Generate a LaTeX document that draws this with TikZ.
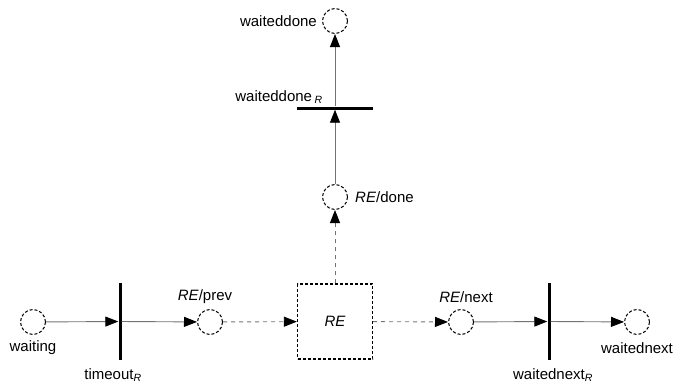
\documentclass[tikz,border=0pt]{standalone}
\usepackage{fontspec}
\setmainfont{Liberation Sans}
\usetikzlibrary{arrows.meta}
\begin{document}
\begin{tikzpicture}[x=1pt,y=-1pt,
 place/.style={circle,draw,dash pattern=on 3pt off 2pt,minimum size=25pt,inner sep=0pt,line width=1pt},
 trans/.style={fill=black,inner sep=0pt,minimum width=3pt,minimum height=77pt},
 htrans/.style={fill=black,inner sep=0pt,minimum width=76pt,minimum height=3pt},
 arc/.style={draw=black!55,line width=0.9pt,-{Triangle[length=13pt,width=10pt,black]}},
 darc/.style={arc,dash pattern=on 4pt off 4pt},
 lbl/.style={font=\fontsize{15}{18}\selectfont,inner sep=0pt}]
\useasboundingbox (0,0) rectangle (680,388);
\node[place] (waiting) at (33,322) {};
\node[lbl] (lwaiting) at (33,348) {waiting};
\node[trans] (timeout) at (120,321.5) {};
\node[lbl] (ltimeout) at (113,375) {timeout\textsubscript{\textit{R}}};
\node[place] (prev) at (210,322) {};
\node[lbl] (lprev) at (205,297) {\textit{RE}/prev};
\node[draw,dash pattern=on 3pt off 2pt,line width=1.3pt,minimum size=75pt,inner sep=0pt,font=\fontsize{15}{18}\selectfont] (re) at (335,321.5) {\textit{RE}};
\node[place] (next) at (461,322) {};
\node[lbl] (lnext) at (466,297) {\textit{RE}/next};
\node[trans] (wnt) at (549,321.5) {};
\node[lbl] (lwnt) at (553,375) {waitednext\textsubscript{\textit{R}}};
\node[place] (wn) at (637,322) {};
\node[lbl] (lwn) at (637,348) {waitednext};
\node[place] (done) at (335,197) {};
\node[lbl,anchor=west] (ldone) at (355,197) {\textit{RE}/done};
\node[htrans] (wdt) at (335,108) {};
\node[lbl] (lwdt) at (279,97) {waiteddone\,\textsubscript{\textit{R}}};
\node[place] (wd) at (335,21) {};
\node[lbl,anchor=east] (lwd) at (317,21) {waiteddone};
\draw[arc] (waiting) -- (timeout);
\draw[arc] (timeout) -- (prev);
\draw[darc] (prev) -- (re);
\draw[darc] (re) -- (next);
\draw[arc] (next) -- (wnt);
\draw[arc] (wnt) -- (wn);
\draw[darc] (re) -- (done);
\draw[arc] (done) -- (wdt);
\draw[arc] (wdt) -- (wd);
\end{tikzpicture}
\end{document}
